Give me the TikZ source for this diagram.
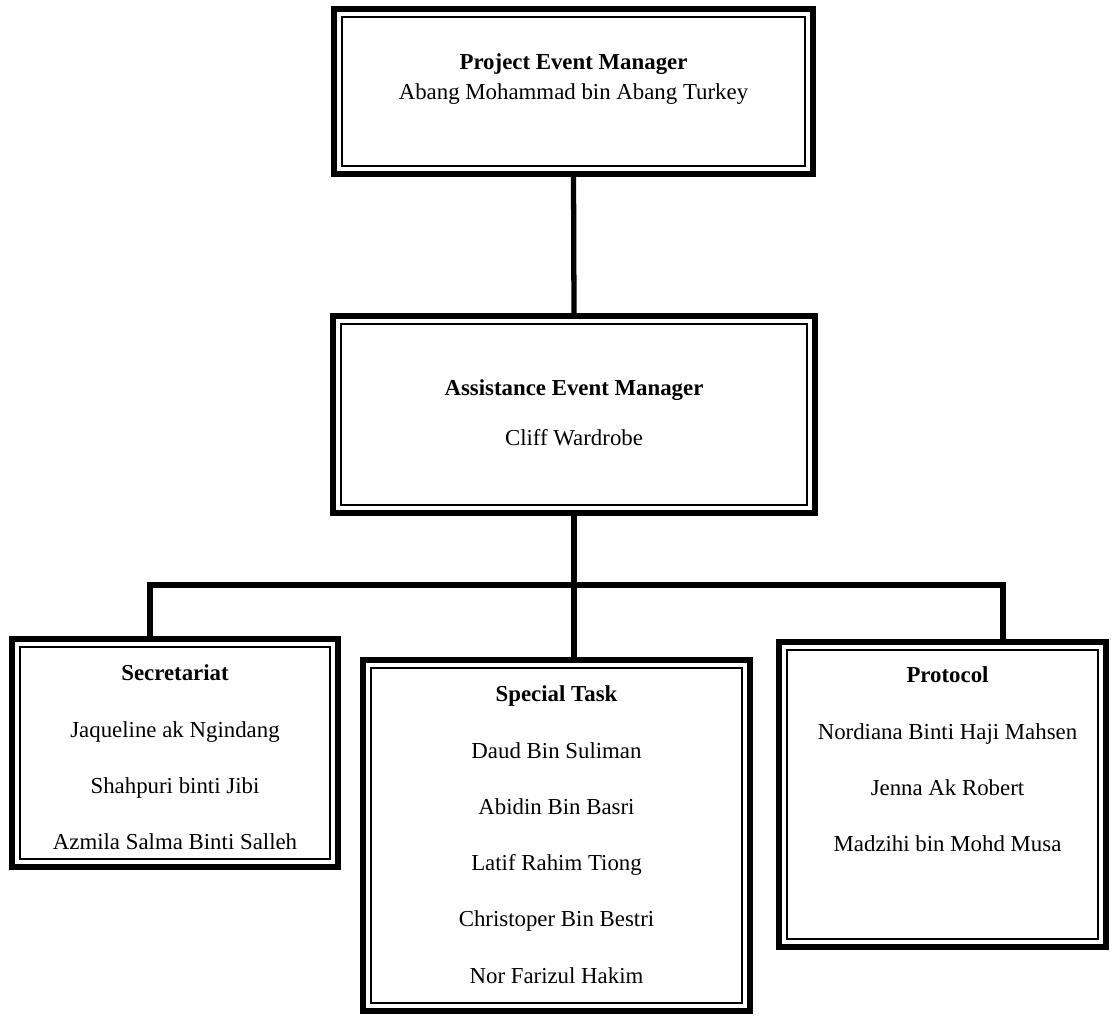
\documentclass[tikz,border=0pt]{standalone}
\usepackage{fontspec}
\setmainfont{Liberation Serif}
\usetikzlibrary{positioning}

\tikzset{
  orgbox/.style={draw=black, line width=3.2pt, inner sep=0pt, outer sep=0pt},
  inline/.style={draw=black, line width=1pt},
  link/.style={draw=black, line width=3pt},
  names/.style={inner sep=0pt, outer sep=0pt, align=center, font=\fontsize{13}{32}\selectfont}
}

\begin{document}
\begin{tikzpicture}[x=0.02cm, y=-0.02cm]
  %%%%% START %%%%%
  \useasboundingbox (0,0) rectangle (1111,1015);

  % boxes
  \node[orgbox, minimum width=9.58cm, minimum height=3.3cm] (pm) at (573.5,91.5) {};
  \node[orgbox, minimum width=9.64cm, minimum height=3.94cm] (am) at (574,414.5) {};
  \node[orgbox, minimum width=6.52cm, minimum height=4.56cm] (sec) at (175,753) {};
  \node[orgbox, minimum width=7.74cm, minimum height=7.02cm] (spec) at (556.5,835.5) {};
  \node[orgbox, minimum width=6.54cm, minimum height=6.1cm] (prot) at (942.5,794.5) {};

  % thin inner frames
  \draw[inline] ([shift={(0.16cm,-0.16cm)}]pm.north west) rectangle ([shift={(-0.16cm,0.16cm)}]pm.south east);
  \draw[inline] ([shift={(0.16cm,-0.16cm)}]am.north west) rectangle ([shift={(-0.16cm,0.16cm)}]am.south east);
  \draw[inline] ([shift={(0.16cm,-0.16cm)}]sec.north west) rectangle ([shift={(-0.16cm,0.16cm)}]sec.south east);
  \draw[inline] ([shift={(0.16cm,-0.16cm)}]spec.north west) rectangle ([shift={(-0.16cm,0.16cm)}]spec.south east);
  \draw[inline] ([shift={(0.16cm,-0.16cm)}]prot.north west) rectangle ([shift={(-0.16cm,0.16cm)}]prot.south east);

  % connectors
  \coordinate (bus) at (574,585);
  \coordinate (busL) at (150,585);
  \coordinate (busR) at (1003,585);
  \draw[link] (pm.south) -- (am.north);
  \draw[link] (am.south) -- (bus);
  \draw[link] (busL |- sec.north) -- (busL) -- (busR) -- (busR |- prot.north);
  \draw[link] (bus) -- (bus |- spec.north);

  % texts
  \node[names, font=\fontsize{13}{17}\selectfont, below=0.9cm of pm.north] (pmtxt)
    {\textbf{Project Event Manager}\\Abang Mohammad bin Abang Turkey};
  \node[names, font=\fontsize{13}{28}\selectfont, below=1.28cm of am.north] (amtxt)
    {\textbf{Assistance Event Manager}\\Cliff Wardrobe};
  \node[names, below=0.52cm of sec.north] (sectxt)
    {\textbf{Secretariat}\\Jaqueline ak Ngindang\\Shahpuri binti Jibi\\Azmila Salma Binti Salleh};
  \node[names, below=0.52cm of spec.north] (spectxt)
    {\textbf{Special Task}\\Daud Bin Suliman\\Abidin Bin Basri\\Latif Rahim Tiong\\Christoper Bin Bestri\\Nor Farizul Hakim};
  \node[names, below=0.5cm of prot.north, xshift=0.1cm] (prottxt)
    {\textbf{Protocol}\\Nordiana Binti Haji Mahsen\\Jenna Ak Robert\\Madzihi bin Mohd Musa};

  %%%%% END %%%%%
\end{tikzpicture}
\end{document}
